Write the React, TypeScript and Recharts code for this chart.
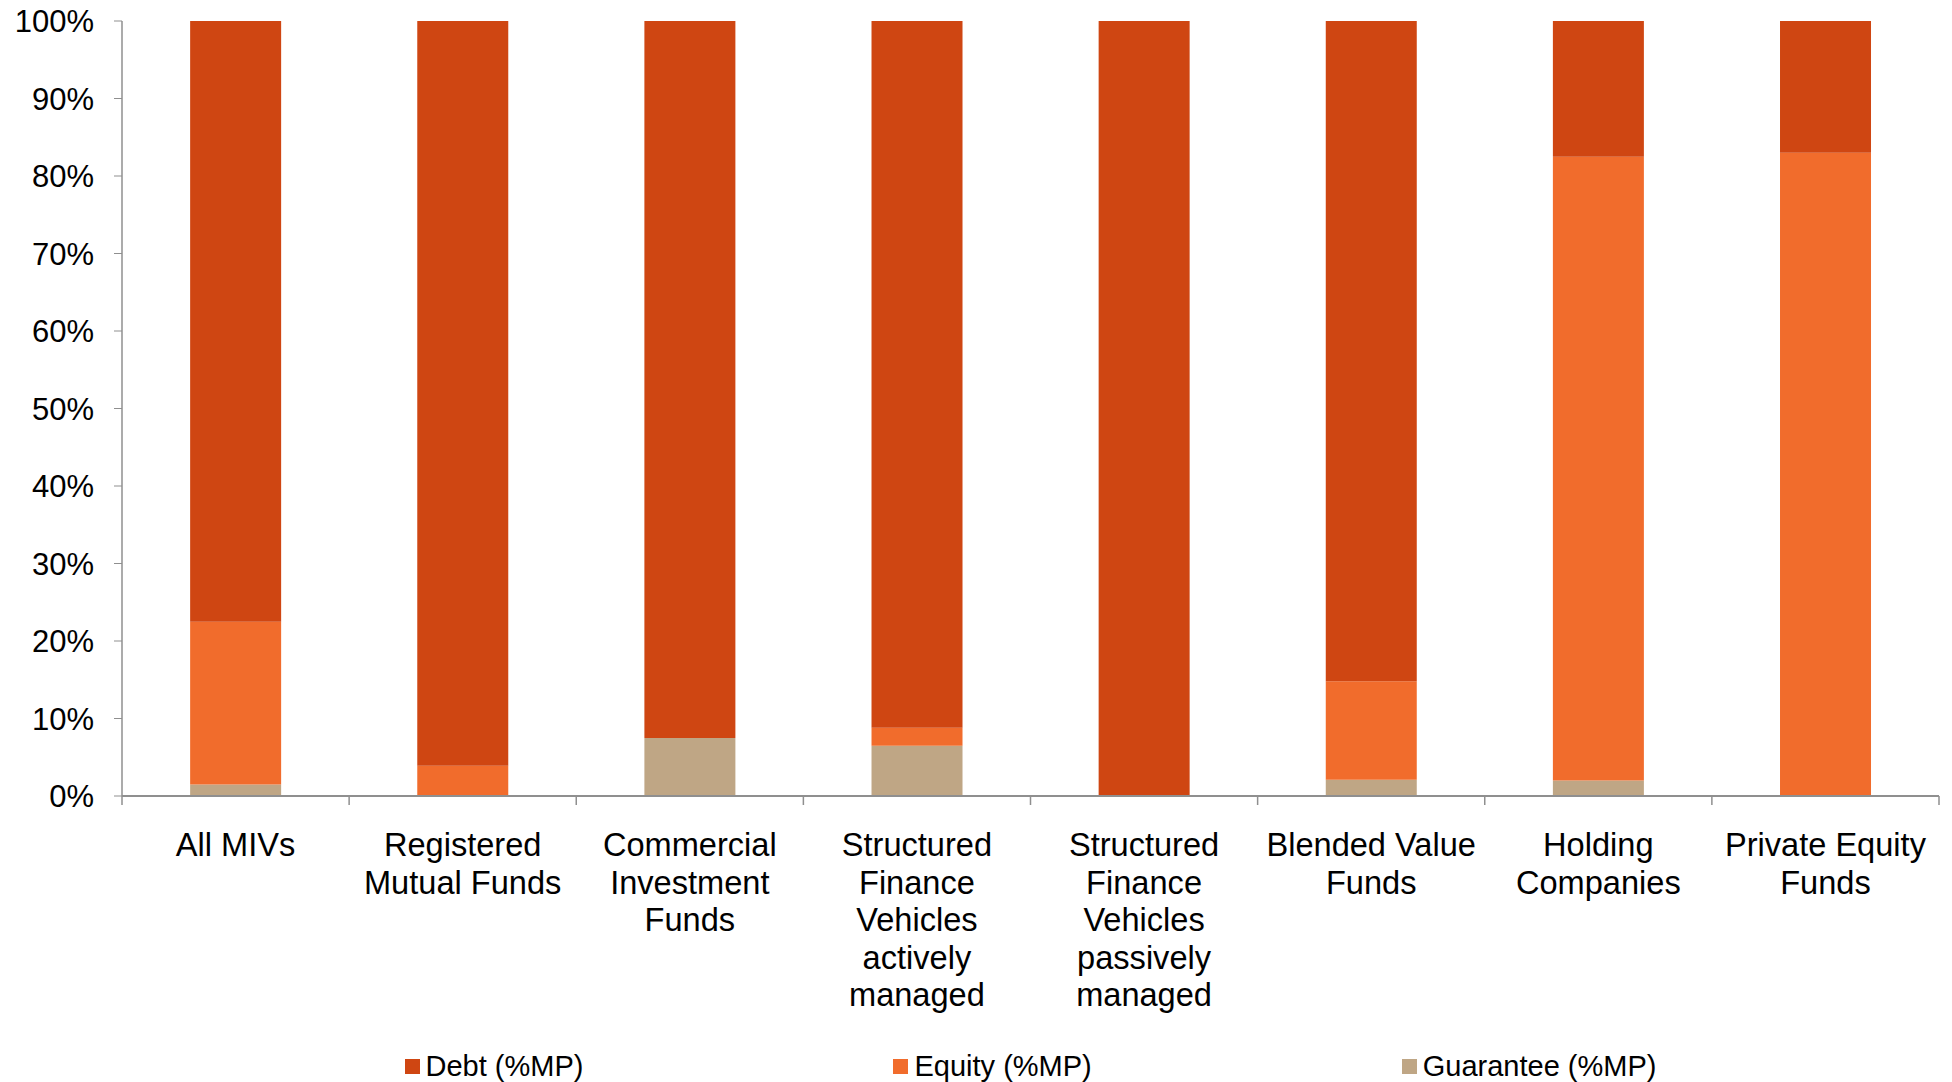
import { Bar, BarChart, XAxis, YAxis } from "recharts";

// categories use "\n" for the wrapped axis labels
const categories = [
  "All MIVs",
  "Registered\nMutual Funds",
  "Commercial\nInvestment\nFunds",
  "Structured\nFinance\nVehicles\nactively\nmanaged",
  "Structured\nFinance\nVehicles\npassively\nmanaged",
  "Blended Value\nFunds",
  "Holding\nCompanies",
  "Private Equity\nFunds",
];

const debt = [77.5, 96.1, 92.5, 91.2, 100, 85.2, 17.5, 17];
const equity = [21, 3.9, 0, 2.3, 0, 12.7, 80.5, 83];
const guarantee = [1.5, 0, 7.5, 6.5, 0, 2.1, 2, 0];

const yTicks = [0, 10, 20, 30, 40, 50, 60, 70, 80, 90, 100];

const seriesNames = ["Debt (%MP)", "Equity (%MP)", "Guarantee (%MP)"];
const seriesColors = ["#CF4612", "#F16C2C", "#BFA685"];

const data = categories.map((name, i) => ({
  name,
  debt: debt[i],
  equity: equity[i],
  guarantee: guarantee[i],
}));

const W = 1952;
const H = 1082;
const M = { top: 21, right: 13, left: 0, bottom: 0 };
const Y_AXIS_W = 122;
const X_AXIS_H = 286;
const BAND = (W - Y_AXIS_W - M.left - M.right) / categories.length;
const FONT = '"Liberation Sans", Arial, sans-serif';
const AXIS_GRAY = "#8f8f8f";

function CategoryTick(props: any) {
  const { x, y, payload } = props;
  const index = props.index ?? payload.index;
  const lines = String(payload.value).split("\n");
  const last = index === categories.length - 1;
  return (
    <g>
      <line x1={x - BAND / 2} x2={x - BAND / 2} y1={y} y2={y + 9} stroke={AXIS_GRAY} strokeWidth={1.5} />
      {last && (
        <line x1={x + BAND / 2} x2={x + BAND / 2} y1={y} y2={y + 9} stroke={AXIS_GRAY} strokeWidth={1.5} />
      )}
      <text textAnchor="middle" fontSize={32.6} fill="#000" fontFamily={FONT}>
        {lines.map((l, i) => (
          <tspan key={i} x={x} y={y + 60 + i * 37.5}>
            {l}
          </tspan>
        ))}
      </text>
    </g>
  );
}

export default function App() {
  return (
    <div style={{ position: "absolute", left: 0, top: 0, width: W, height: H, background: "#fff", fontFamily: FONT }}>
      <BarChart width={W} height={H} data={data} margin={M} barCategoryGap="30%">
        <XAxis
          dataKey="name"
          interval={0}
          height={X_AXIS_H}
          tickSize={0}
          tickMargin={0}
          tickLine={false}
          axisLine={{ stroke: AXIS_GRAY, strokeWidth: 2 }}
          tick={<CategoryTick />}
        />
        <YAxis
          width={Y_AXIS_W}
          domain={[0, 100]}
          ticks={yTicks}
          interval={0}
          tickFormatter={(v: number) => `${v}%`}
          tickSize={8}
          tickMargin={20}
          tickLine={{ stroke: AXIS_GRAY }}
          axisLine={{ stroke: AXIS_GRAY, strokeWidth: 1.5 }}
          tick={{ fontSize: 31, fill: "#000", fontFamily: FONT }}
        />
        <Bar dataKey="guarantee" stackId="a" fill={seriesColors[2]} isAnimationActive={false} />
        <Bar dataKey="equity" stackId="a" fill={seriesColors[1]} isAnimationActive={false} />
        <Bar dataKey="debt" stackId="a" fill={seriesColors[0]} isAnimationActive={false} />
      </BarChart>
      <div
        style={{
          position: "absolute",
          left: Y_AXIS_W,
          width: W - Y_AXIS_W - M.right,
          top: 1046,
          height: 40,
          display: "flex",
          alignItems: "center",
          justifyContent: "center",
          gap: 310,
          fontSize: 29,
          color: "#000",
        }}
      >
        {seriesNames.map((n, i) => (
          <div key={n} style={{ display: "flex", alignItems: "center" }}>
            <span style={{ width: 15, height: 15, background: seriesColors[i], marginRight: 6, display: "inline-block" }} />
            <span>{n}</span>
          </div>
        ))}
      </div>
    </div>
  );
}
